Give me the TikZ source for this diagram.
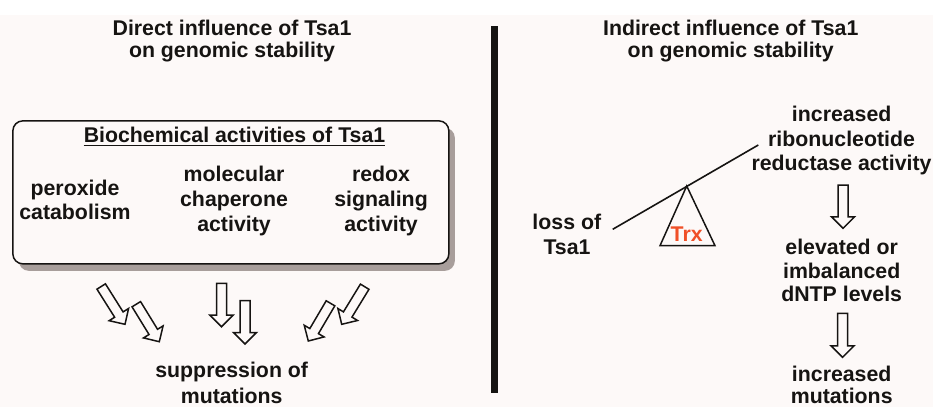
\documentclass[tikz,border=0pt]{standalone}
\usepackage{fontspec}
\setmainfont{Liberation Sans}
\usetikzlibrary{calc,shadows}
\definecolor{bgc}{RGB}{253,249,248}
\definecolor{shadowc}{RGB}{168,158,155}
\definecolor{trxc}{RGB}{240,80,40}
\definecolor{inkc}{RGB}{22,20,18}
\newcommand\bkarrow[3]{%
  \coordinate (#3h) at ($(#2)!11.5pt!(#1)$);
  \draw[barrow] ($(#1)!5pt!90:(#2)$) -- ($(#3h)!5pt!90:(#2)$) -- ($(#3h)!11.5pt!90:(#2)$) -- (#2)
    -- ($(#3h)!11.5pt!-90:(#2)$) -- ($(#3h)!5pt!-90:(#2)$) -- ($(#1)!5pt!-90:(#2)$) -- cycle;}
\begin{document}
\begin{tikzpicture}[x=1pt,y=-1pt,
  txt/.style={inner sep=0pt, anchor=base, font=\fontsize{21.3}{24}\selectfont\bfseries, text=inkc},
  barrow/.style={draw=inkc, fill=bgc, line width=1.5pt, line join=miter},
  biobox/.style={draw=inkc, fill=bgc, line width=1.5pt, rounded corners=10pt, inner sep=0pt,
    minimum width=436pt, minimum height=143pt,
    drop shadow={shadow xshift=6pt, shadow yshift=-7pt, fill=shadowc, opacity=1}}]
\useasboundingbox (0,0) rectangle (933,407);
\fill[white] (0,0) rectangle (933,407);
\fill[bgc] (0,15) rectangle (933,407);

% titles
\node[txt] (tl1) at (232,35) {Direct influence of Tsa1};
\node[txt] (tl2) at (232,57) {on genomic stability};
\node[txt] (tr1) at (730.7,35) {Indirect influence of Tsa1};
\node[txt] (tr2) at (730.7,57.5) {on genomic stability};

% divider
\coordinate (barTop) at (494,26);
\coordinate (barBot) at (494,393);
\draw[inkc, line width=7pt] (barTop) -- (barBot);

% box
\node[biobox] (bio) at (230.85,192.35) {};
\node[txt] (head) at (234.5,142) {Biochemical activities of Tsa1};
\draw[inkc, line width=1.3pt] ([yshift=-3.3pt]head.base west) -- ([yshift=-3.3pt]head.base east);
\node[txt] (per1) at (75,195) {peroxide};
\node[txt] (per2) at (75,219.5) {catabolism};
\node[txt] (mol1) at (234,181.7) {molecular};
\node[txt] (mol2) at (234,206.5) {chaperone};
\node[txt] (mol3) at (234,231) {activity};
\node[txt] (red1) at (381,181.7) {redox};
\node[txt] (red2) at (381,206.5) {signaling};
\node[txt] (red3) at (381,231) {activity};

% left arrows
\coordinate (aT) at (101.2,286.5); \coordinate (aP) at (125,324.3);
\coordinate (bT) at (136.3,304.2); \coordinate (bP) at (159.3,341.7);
\coordinate (cT) at (221.5,283.3); \coordinate (cP) at (221.5,326.7);
\coordinate (dT) at (245,300.7);   \coordinate (dP) at (245,344);
\coordinate (eT) at (364.7,286.7); \coordinate (eP) at (341.7,324.3);
\coordinate (fT) at (330.5,303.3); \coordinate (fP) at (308.3,341);
\bkarrow{aT}{aP}{a}
\bkarrow{bT}{bP}{b}
\bkarrow{cT}{cP}{c}
\bkarrow{dT}{dP}{d}
\bkarrow{eT}{eP}{e}
\bkarrow{fT}{fP}{f}

\node[txt] (sup1) at (231.7,377) {suppression of};
\node[txt] (sup2) at (231.7,403) {mutations};

% right side
\coordinate (levL) at (612.7,229.3);
\coordinate (levR) at (758.3,145);
\draw[inkc, line width=1.6pt] (levL) -- (levR);
\coordinate (triA) at (686.7,186);
\coordinate (triL) at (660,245.7);
\coordinate (triR) at (715,245.7);
\draw[inkc, line width=1.5pt, line join=miter] (triA) -- (triL) -- (triR) -- cycle;
\node[txt, text=trxc] (trx) at (686.7,241.7) {Trx};

\node[txt] (loss1) at (566.8,229.3) {loss of};
\node[txt] (loss2) at (567,254) {Tsa1};

\node[txt] (inc1) at (841.7,121.5) {increased};
\node[txt] (inc2) at (841.5,146.5) {ribonucleotide};
\node[txt] (inc3) at (841.5,170.7) {reductase activity};

\coordinate (gT) at (843,185); \coordinate (gP) at (843,228.3);
\bkarrow{gT}{gP}{g}

\node[txt] (elv1) at (841.7,254) {elevated or};
\node[txt] (elv2) at (841.7,278.3) {imbalanced};
\node[txt] (elv3) at (841.7,301.7) {dNTP levels};

\coordinate (hT) at (842.5,313.3); \coordinate (hP) at (842.5,357.3);
\bkarrow{hT}{hP}{h}

\node[txt] (mut1) at (841.7,381) {increased};
\node[txt] (mut2) at (841.7,403.5) {mutations};
\end{tikzpicture}
\end{document}
